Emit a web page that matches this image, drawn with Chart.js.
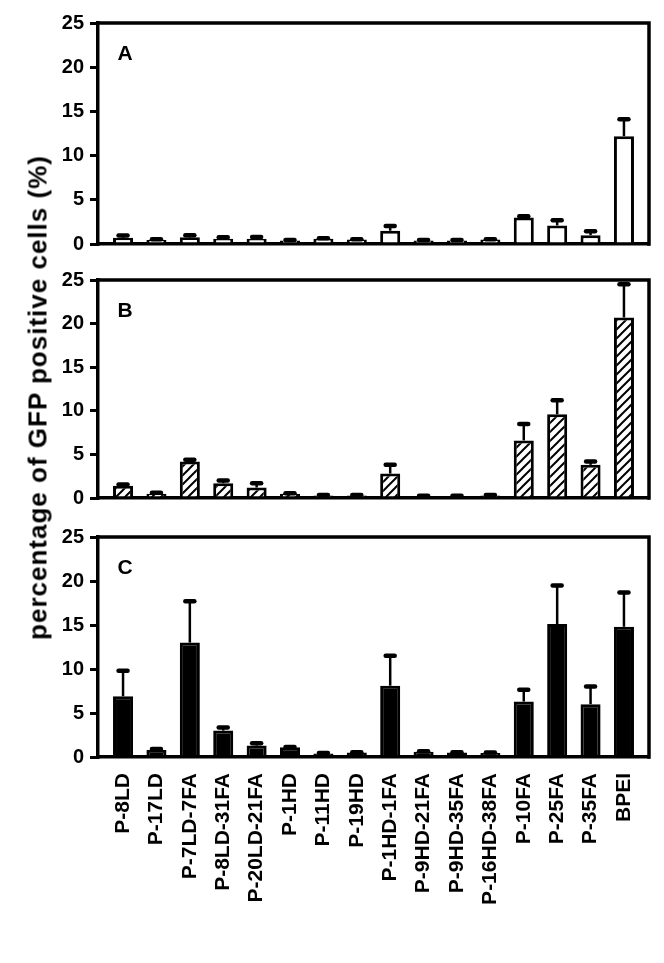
<!DOCTYPE html>
<html>
<head>
<meta charset="utf-8">
<script src="https://cdn.jsdelivr.net/npm/chart.js@4.4.0/dist/chart.umd.min.js"></script>
<style>
  body { margin: 0; background: #fff; }
  #wrap { position: relative; width: 664px; height: 963px; }
  .panel { position: absolute; left: 0; width: 664px; }
  #ytitle {
    position: absolute; left: -262px; top: 382px; width: 600px;
    line-height: 30px; text-align: center; transform: rotate(-90deg);
    font: bold 26px "Liberation Sans", Arial, sans-serif; letter-spacing: 1px; color: #000;
  }
</style>
</head>
<body>
<div id="wrap">
  <div class="panel" style="top:0;height:262px"><canvas id="chartA"></canvas></div>
  <div class="panel" style="top:262px;height:254px"><canvas id="chartB"></canvas></div>
  <div class="panel" style="top:516px;height:447px"><canvas id="chartC"></canvas></div>
  <div id="ytitle">percentage of GFP positive cells (%)</div>
</div>
<script>
var categories = ['P-8LD', 'P-17LD', 'P-7LD-7FA', 'P-8LD-31FA', 'P-20LD-21FA', 'P-1HD', 'P-11HD', 'P-19HD',
    'P-1HD-1FA', 'P-9HD-21FA', 'P-9HD-35FA', 'P-16HD-38FA', 'P-10FA', 'P-25FA', 'P-35FA', 'BPEI']

var valuesA = [0.7, 0.45, 0.75, 0.6, 0.6, 0.4, 0.6, 0.5, 1.5, 0.4, 0.4, 0.5, 3.0, 2.1, 1.0, 12.2]
var errorsA = [0.25, 0.1, 0.25, 0.15, 0.2, 0.05, 0.05, 0.05, 0.55, 0.05, 0.05, 0.05, 0.15, 0.6, 0.45, 1.9]

var valuesB = [1.4, 0.5, 4.2, 1.7, 1.2, 0.5, 0.3, 0.3, 2.8, 0.2, 0.2, 0.3, 6.6, 9.6, 3.8, 20.7]
var errorsB = [0.15, 0.1, 0.2, 0.3, 0.5, 0.05, 0.05, 0.05, 1.0, 0.05, 0.05, 0.05, 1.9, 1.6, 0.4, 3.8]

var valuesC = [6.9, 0.8, 13.0, 3.0, 1.3, 1.1, 0.4, 0.5, 8.1, 0.6, 0.5, 0.45, 6.3, 15.1, 6.0, 14.8]
var errorsC = [2.9, 0.1, 4.7, 0.35, 0.25, 0.05, 0.05, 0.05, 3.4, 0.05, 0.05, 0.05, 1.35, 4.4, 2.0, 3.9]

var yTicks = [0, 5, 10, 15, 20, 25]

var FONT = '"Liberation Sans", Arial, sans-serif'

function hatchPattern() {
    var c = document.createElement('canvas');
    c.width = 9;
    c.height = 9;
    var g = c.getContext('2d');
    g.fillStyle = '#fff';
    g.fillRect(0, 0, 9, 9);
    g.strokeStyle = '#000';
    g.lineWidth = 2;
    g.beginPath();
    g.moveTo(-1, 10); g.lineTo(10, -1);
    g.moveTo(-5, 5); g.lineTo(5, -5);
    g.moveTo(4, 14); g.lineTo(14, 4);
    g.stroke();
    return g.createPattern(c, 'repeat');
}

// error bars (upper only) + closing top/right border + panel letter
var panelPlugin = {
    id: 'panelPlugin',
    afterDatasetsDraw: function(chart, args, opts) {
        var ctx = chart.ctx;
        var yScale = chart.scales.y;
        var meta = chart.getDatasetMeta(0);
        ctx.save();
        ctx.strokeStyle = '#000';
        meta.data.forEach(function(bar, i) {
            var v = chart.data.datasets[0].data[i].y;
            var yTop = yScale.getPixelForValue(v + opts.errors[i]);
            ctx.lineWidth = 2.5;
            ctx.lineCap = 'butt';
            ctx.beginPath();
            ctx.moveTo(bar.x, bar.y);
            ctx.lineTo(bar.x, yTop);
            ctx.stroke();
            ctx.lineWidth = 4.5;
            ctx.lineCap = 'round';
            ctx.beginPath();
            ctx.moveTo(bar.x - 4.5, yTop);
            ctx.lineTo(bar.x + 4.5, yTop);
            ctx.stroke();
        });
        var a = chart.chartArea;
        ctx.lineWidth = 3.5;
        ctx.lineCap = 'square';
        ctx.beginPath();
        ctx.moveTo(a.left, a.top);
        ctx.lineTo(a.right, a.top);
        ctx.lineTo(a.right, a.bottom);
        ctx.stroke();
        ctx.fillStyle = '#000';
        ctx.font = 'bold 21px ' + FONT;
        ctx.textAlign = 'center';
        ctx.textBaseline = 'middle';
        ctx.fillText(opts.letter, a.left + 27, a.top + 31);
        ctx.restore();
    }
};

function makeChart(id, values, errors, fill, letter, showLabels, padTop, padBottom) {
    return new Chart(document.getElementById(id), {
        type: 'bar',
        data: {
            datasets: [{
                data: values.map(function(v, i) { return { x: i, y: v }; }),
                backgroundColor: fill,
                borderColor: '#000',
                borderWidth: 3,
                borderSkipped: 'bottom',
                barPercentage: 0.6,
                categoryPercentage: 1
            }]
        },
        options: {
            responsive: true,
            maintainAspectRatio: false,
            animation: false,
            layout: { padding: { top: padTop, bottom: padBottom, left: 0, right: 15 } },
            plugins: {
                legend: { display: false },
                tooltip: { enabled: false },
                panelPlugin: { errors: errors, letter: letter }
            },
            scales: {
                x: {
                    type: 'linear',
                    offset: false,
                    min: -0.75,
                    max: 15.75,
                    grid: { display: false },
                    border: { display: true, color: '#000', width: 3.5 },
                    afterBuildTicks: function(scale) {
                        scale.ticks = categories.map(function(c, i) { return { value: i }; });
                    },
                    afterFit: function(scale) { scale.height = showLabels ? 206 : 0; },
                    ticks: {
                        display: showLabels,
                        autoSkip: false,
                        minRotation: 90,
                        maxRotation: 90,
                        padding: 8,
                        color: '#000',
                        font: { family: FONT, size: 21, weight: 'bold' },
                        callback: function(v) { return categories[v]; }
                    }
                },
                y: {
                    min: 0,
                    max: 25,
                    afterBuildTicks: function(scale) {
                        scale.ticks = yTicks.map(function(t) { return { value: t }; });
                    },
                    afterFit: function(scale) { scale.width = 98; },
                    grid: { drawOnChartArea: false, drawTicks: true, tickLength: 8, color: '#000', lineWidth: 3 },
                    border: { display: true, color: '#000', width: 3.5 },
                    ticks: {
                        padding: 6,
                        color: '#000',
                        font: { family: FONT, size: 20, weight: 'bold' }
                    }
                }
            }
        },
        plugins: [panelPlugin]
    });
}

makeChart('chartA', valuesA, errorsA, '#fff', 'A', false, 23, 18);
makeChart('chartB', valuesB, errorsB, hatchPattern(), 'B', false, 18, 16);
makeChart('chartC', valuesC, errorsC, '#000', 'C', true, 21, 0);
</script>
</body>
</html>
